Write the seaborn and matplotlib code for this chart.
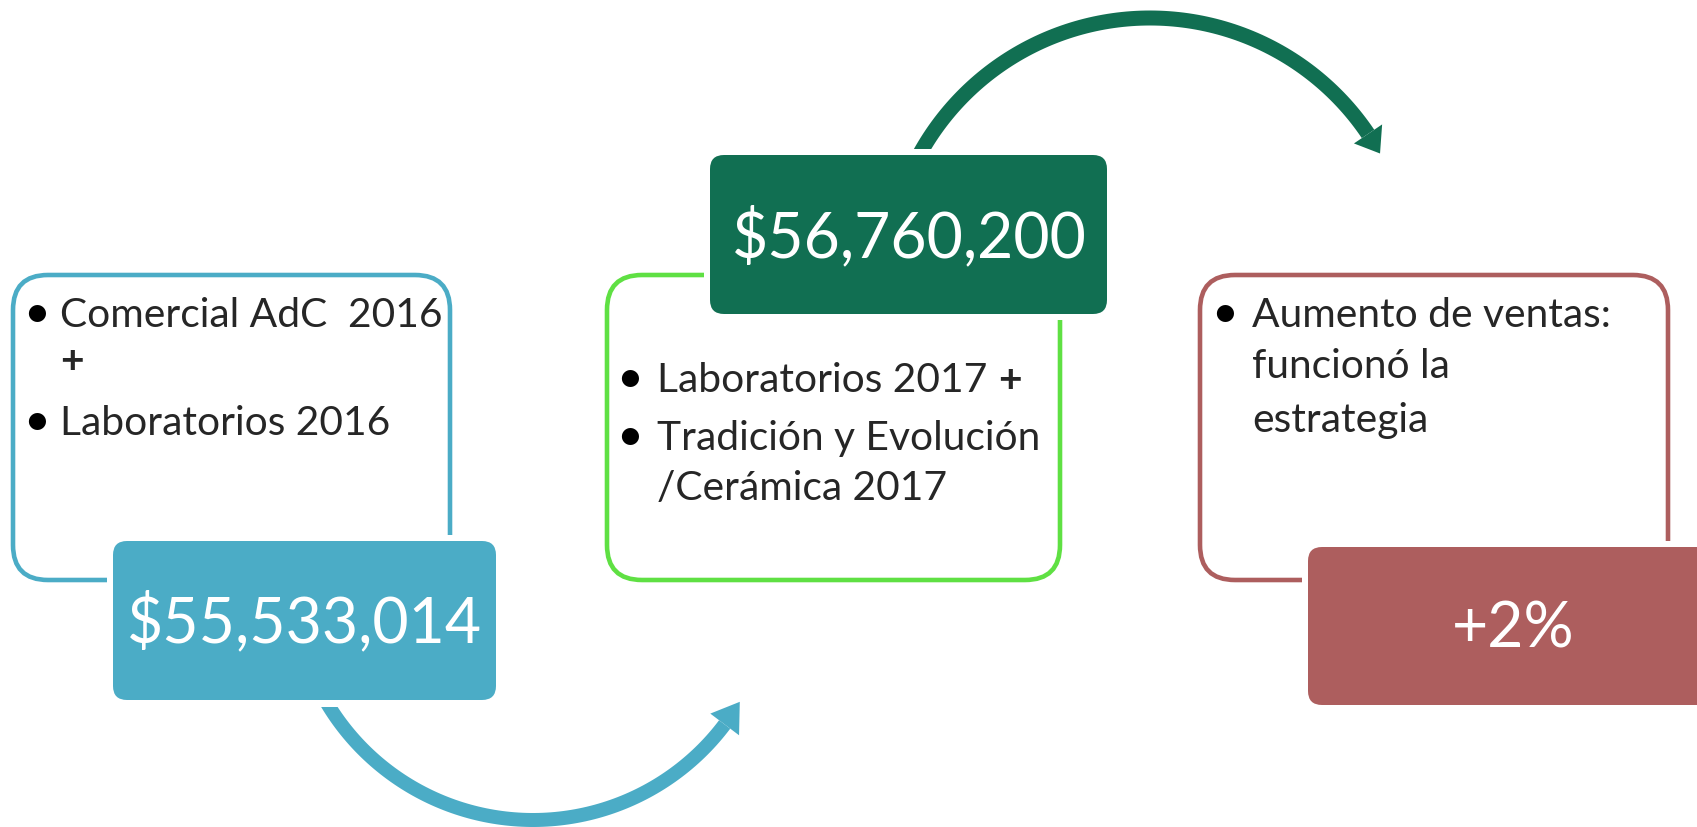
import numpy as np
import matplotlib
matplotlib.use("Agg")
import matplotlib.pyplot as plt
import seaborn as sns
from matplotlib.patches import FancyBboxPatch, Polygon, Rectangle

# valores de cada paso
valores = ["$55,533,014", "$56,760,200", "+2%"]
texto_paso1 = ["Comercial AdC  2016", "Laboratorios 2016"]
texto_paso2 = ["Laboratorios 2017", "Tradición y Evolución", "/Cerámica 2017"]
texto_paso3 = ["Aumento de ventas:", "funcionó la", "estrategia"]

sns.set_theme(style="white")
plt.rcParams["font.family"] = ["Lato", "DejaVu Sans"]

colores = sns.color_palette(["#4BACC6", "#116F52", "#5FE043", "#AD5E5E"])
azul, verde, verde_claro, rojo = colores

fig = plt.figure(figsize=(16.97, 8.27), dpi=100)
ax = fig.add_axes([0, 0, 1, 1])
ax.set_xlim(0, 1697)
ax.set_ylim(827, 0)
ax.axis("off")

LW = 3.3
BODY = 29.3
BIG = 45


def caja(x0, y0, x1, y1, borde, fx0, fy0, fx1, fy1, relleno):
    # caja con borde y caja rellena encima
    ax.add_patch(FancyBboxPatch((x0, y0), x1 - x0, y1 - y0,
                                boxstyle="round,pad=0,rounding_size=35",
                                fc="white", ec=borde, lw=LW, zorder=1))
    m = 6
    ax.add_patch(FancyBboxPatch((fx0 - m, fy0 - m), fx1 - fx0 + 2 * m, fy1 - fy0 + 2 * m,
                                boxstyle="round,pad=0,rounding_size=18",
                                fc="white", ec="none", zorder=2))
    ax.add_patch(FancyBboxPatch((fx0, fy0), fx1 - fx0, fy1 - fy0,
                                boxstyle="round,pad=0,rounding_size=14",
                                fc=relleno, ec="none", zorder=3))


def flecha(cx, cy, r, w, t0, t1, tip, hw, color, clip):
    th = np.radians(np.linspace(t0, t1, 120))
    ext = np.c_[cx + (r + w / 2) * np.cos(th), cy + (r + w / 2) * np.sin(th)]
    inn = np.c_[cx + (r - w / 2) * np.cos(th), cy + (r - w / 2) * np.sin(th)][::-1]
    banda = Polygon(np.vstack([ext, inn]), closed=True, fc=color, ec="none", zorder=1)
    ax.add_patch(banda)
    rect = Rectangle(clip[:2], clip[2], clip[3], transform=ax.transData)
    banda.set_clip_path(rect)
    tb, tt = np.radians(t1), np.radians(tip)
    punta = [(cx + (r + hw) * np.cos(tb), cy + (r + hw) * np.sin(tb)),
             (cx + r * np.cos(tt), cy + r * np.sin(tt)),
             (cx + (r - hw) * np.cos(tb), cy + (r - hw) * np.sin(tb))]
    ax.add_patch(Polygon(punta, closed=True, fc=color, ec="none", zorder=1))


# flechas curvas
flecha(533, 580, 240, 14, 155, 37, 30.5, 18, azul, (0, 707, 1697, 200))
flecha(1150, 281, 263, 15, 205, 326, 331, 17, verde, (0, 0, 1697, 150))

# cajas
caja(13, 275, 450, 580, azul, 113, 541, 496, 700, azul)
caja(607, 275, 1060, 580, verde_claro, 710, 155, 1107, 314, verde)
caja(1200, 275, 1668, 580, rojo, 1308, 547, 1718, 705, rojo)


def viñeta(x, y):
    ax.text(x, y, "•", fontsize=BODY + 4, ha="center", va="baseline", color="black", zorder=5)


# paso 1
viñeta(37, 327)
ax.text(60, 327, texto_paso1[0], fontsize=BODY, va="baseline", zorder=5)
ax.text(60, 373, "+", fontsize=BODY, fontweight="bold", va="baseline", zorder=5)
viñeta(37, 435)
ax.text(60, 435, texto_paso1[1], fontsize=BODY, va="baseline", zorder=5)
ax.text(304, 642, valores[0], fontsize=BIG, color="white", ha="center", va="baseline", zorder=5)

# paso 2
viñeta(630, 392)
t = ax.text(657, 392, texto_paso2[0] + " ", fontsize=BODY, va="baseline", zorder=5)
fig.canvas.draw()
x_mas = t.get_window_extent().x1
ax.text(x_mas, 392, "+", fontsize=BODY, fontweight="bold", va="baseline", zorder=5)
viñeta(630, 450)
ax.text(657, 450, texto_paso2[1], fontsize=BODY, va="baseline", zorder=5)
ax.text(657, 500, texto_paso2[2], fontsize=BODY, va="baseline", zorder=5)
ax.text(909, 257, valores[1], fontsize=BIG, color="white", ha="center", va="baseline", zorder=5)

# paso 3
viñeta(1225, 327)
ax.text(1252, 327, texto_paso3[0], fontsize=BODY, va="baseline", zorder=5)
ax.text(1252, 378, texto_paso3[1], fontsize=BODY, va="baseline", zorder=5)
ax.text(1252, 432, texto_paso3[2], fontsize=BODY, va="baseline", zorder=5)
ax.text(1513, 647, valores[2], fontsize=BIG, color="white", ha="center", va="baseline", zorder=5)

fig.savefig("out.png", dpi=100)
